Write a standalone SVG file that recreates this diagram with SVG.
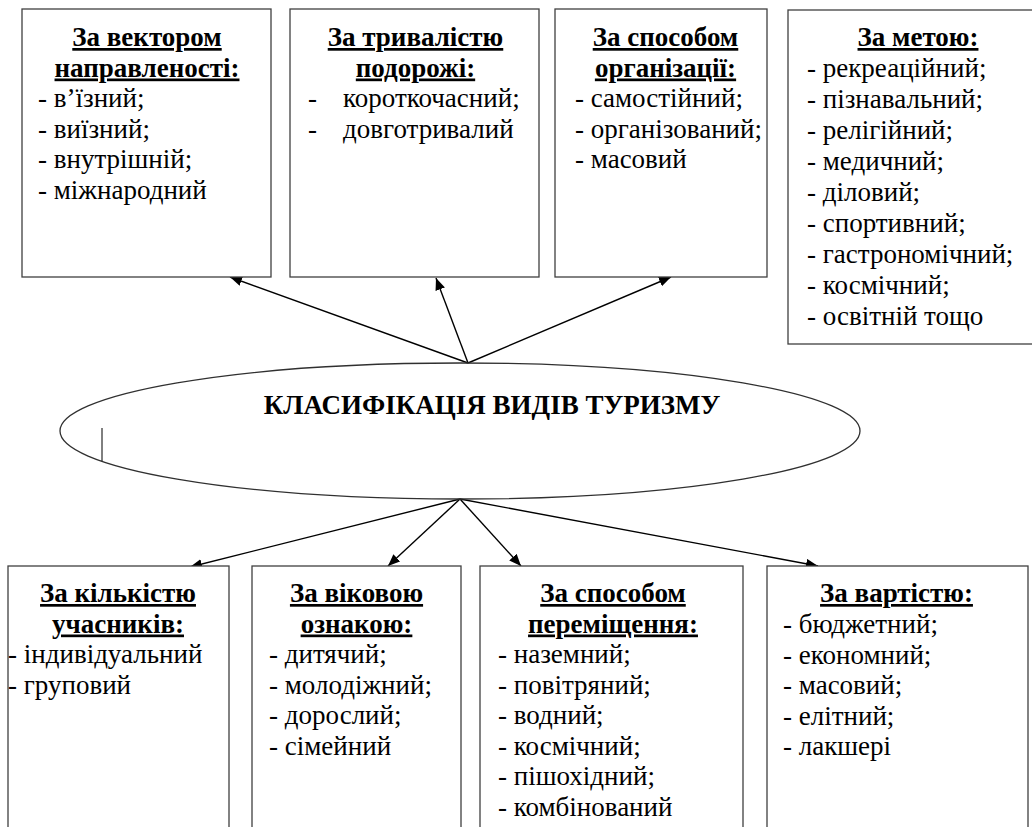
<svg xmlns="http://www.w3.org/2000/svg" width="1032" height="827" viewBox="0 0 1032 827" font-family="'Liberation Serif', 'DejaVu Serif', serif">
<style>
.box{fill:#fff;stroke:#404040;stroke-width:1.3}
text{font-family:'Liberation Serif','DejaVu Serif',serif;font-size:27px;fill:#000}
.h{font-weight:bold;text-anchor:middle;text-decoration:underline}
.t{font-weight:bold;font-size:27px;text-anchor:middle}
.c{stroke:#000;stroke-width:1.4;fill:none;marker-end:url(#ah)}
</style>
<defs>
<marker id="ah" viewBox="0 0 12 10" refX="12" refY="5" markerWidth="12" markerHeight="10" markerUnits="userSpaceOnUse" orient="auto">
<path d="M0,0 L12,5 L0,10 Z" fill="#000"/>
</marker>
</defs>
<rect width="1032" height="827" fill="#fff"/>
<g id="connectors">
<line class="c" x1="468" y1="363" x2="230" y2="277"/>
<line class="c" x1="468" y1="363" x2="436" y2="278"/>
<line class="c" x1="468" y1="363" x2="671" y2="277"/>
<line class="c" x1="460" y1="499" x2="190" y2="567"/>
<line class="c" x1="460" y1="499" x2="388" y2="566"/>
<line class="c" x1="460" y1="499" x2="521" y2="566"/>
<line class="c" x1="460" y1="499" x2="818" y2="566"/>
</g>
<g id="center">
<ellipse cx="460" cy="431" rx="400" ry="68" fill="none" stroke="#303030" stroke-width="1.3"/>
<text class="t" x="492" y="414">КЛАСИФІКАЦІЯ ВИДІВ ТУРИЗМУ</text>
<line x1="102" y1="428" x2="102" y2="461" stroke="#000" stroke-width="1"/>
</g>
<g id="vector">
<rect class="box" x="22" y="9" width="249" height="268"/>
<text class="h" x="147" y="46">За вектором</text>
<text class="h" x="147" y="76.5">направленості:</text>
<text x="38" y="107">- в’їзний;</text>
<text x="38" y="137.5">- виїзний;</text>
<text x="38" y="168">- внутрішній;</text>
<text x="38" y="198.5">- міжнародний</text>
</g>
<g id="duration">
<rect class="box" x="290" y="9" width="249" height="268"/>
<text class="h" x="415.5" y="46">За тривалістю</text>
<text class="h" x="415.5" y="76.5">подорожі:</text>
<text x="308" y="107">-</text>
<text x="343" y="107">короткочасний;</text>
<text x="308" y="137.5">-</text>
<text x="343" y="137.5">довготривалий</text>
</g>
<g id="organization">
<rect class="box" x="555" y="9" width="212" height="268"/>
<text class="h" x="665.5" y="46">За способом</text>
<text class="h" x="665.5" y="76.5">організації:</text>
<text x="575" y="107">- самостійний;</text>
<text x="575" y="137.5">- організований;</text>
<text x="575" y="168">- масовий</text>
</g>
<g id="purpose">
<rect class="box" x="788" y="10" width="260" height="334"/>
<text class="h" x="918" y="46">За метою:</text>
<text x="807" y="76.5">- рекреаційний;</text>
<text x="807" y="107.5">- пізнавальний;</text>
<text x="807" y="138.5">- релігійний;</text>
<text x="807" y="169.5">- медичний;</text>
<text x="807" y="200.5">- діловий;</text>
<text x="807" y="231.5">- спортивний;</text>
<text x="807" y="262.5">- гастрономічний;</text>
<text x="807" y="293.5">- космічний;</text>
<text x="807" y="324.5">- освітній тощо</text>
</g>
<g id="participants">
<rect class="box" x="8" y="566" width="221" height="300"/>
<text class="h" x="118" y="602">За кількістю</text>
<text class="h" x="118" y="632.5">учасників:</text>
<text x="8" y="663">- індивідуальний</text>
<text x="8" y="693.5">- груповий</text>
</g>
<g id="age">
<rect class="box" x="252" y="566" width="209" height="300"/>
<text class="h" x="356.5" y="602">За віковою</text>
<text class="h" x="356.5" y="632.5">ознакою:</text>
<text x="269" y="663">- дитячий;</text>
<text x="269" y="693.5">- молодіжний;</text>
<text x="269" y="724">- дорослий;</text>
<text x="269" y="754.5">- сімейний</text>
</g>
<g id="transport">
<rect class="box" x="480" y="566" width="263" height="300"/>
<text class="h" x="613" y="602">За способом</text>
<text class="h" x="613" y="632.5">переміщення:</text>
<text x="498" y="663">- наземний;</text>
<text x="498" y="693.5">- повітряний;</text>
<text x="498" y="724">- водний;</text>
<text x="498" y="754.5">- космічний;</text>
<text x="498" y="785">- пішохідний;</text>
<text x="498" y="815.5">- комбінований</text>
</g>
<g id="cost">
<rect class="box" x="767" y="566" width="261" height="300"/>
<text class="h" x="896.5" y="602">За вартістю:</text>
<text x="783" y="633">- бюджетний;</text>
<text x="783" y="663.5">- економний;</text>
<text x="783" y="694">- масовий;</text>
<text x="783" y="724.5">- елітний;</text>
<text x="783" y="755">- лакшері</text>
</g>
</svg>
